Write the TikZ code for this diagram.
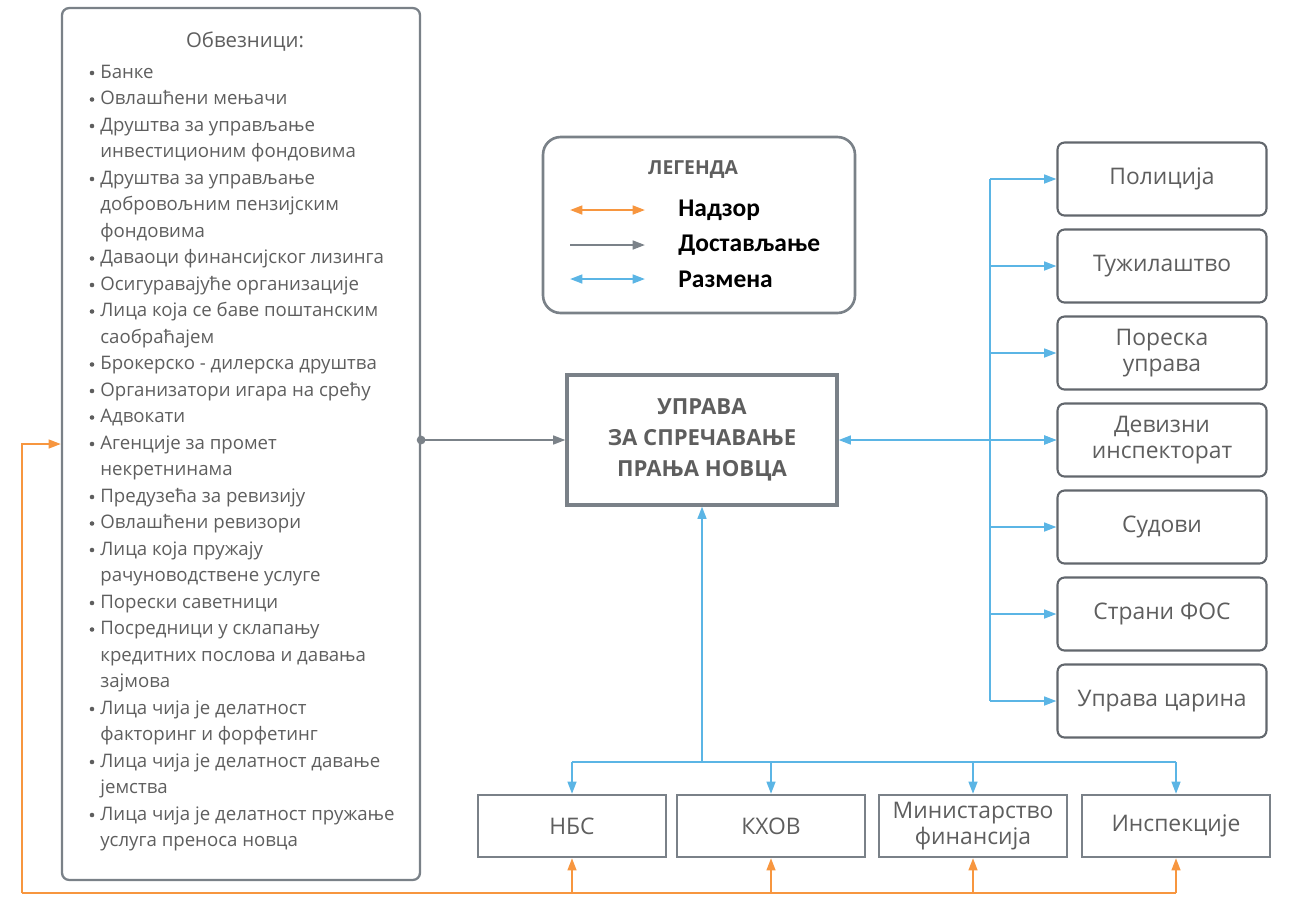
\documentclass[tikz,border=0pt]{standalone}
\usepackage{fontspec}
\setmainfont{Open Sans}
\newfontfamily\legfont{Carlito}
\usepackage{tikz}
\usetikzlibrary{arrows.meta, positioning}

\definecolor{bordergray}{HTML}{7A8188}
\definecolor{txtgray}{HTML}{5E5E5E}
\definecolor{nadzor}{HTML}{F7963F}
\definecolor{razmena}{HTML}{5BB5E5}
\definecolor{dostava}{HTML}{7B8289}

\tikzset{
  obvitem/.style={anchor=base west, inner sep=0pt, text=txtgray, font=\fontsize{10.6}{12}\selectfont},
  inst/.style={draw=bordergray!80!black, line width=1.2pt, rounded corners=4pt, minimum width=4.18cm, minimum height=1.46cm, align=center, text=txtgray, font=\fontsize{13}{14.5}\selectfont},
  bank/.style={draw=bordergray, line width=1.3pt, minimum width=3.76cm, minimum height=1.24cm, align=center, text=txtgray, font=\fontsize{13}{14.5}\selectfont},
  leglabel/.style={anchor=west, inner sep=0pt, font=\legfont\bfseries\fontsize{14.5}{16}\selectfont},
  nadzorln/.style={draw=nadzor, line width=1.2pt},
  dostln/.style={draw=dostava, line width=1.2pt},
  razmln/.style={draw=razmena, line width=1.2pt},
  legnadzor/.style={nadzorln, <->},
  legdost/.style={dostln, ->},
  legrazm/.style={razmln, <->}
}

\begin{document}
\begin{tikzpicture}[x=0.02cm, y=-0.02cm, >={Triangle[length=7pt,width=5pt]}]
\useasboundingbox (0,0) rectangle (1293,897);

% Obveznici
\node[draw=bordergray, line width=1.3pt, rounded corners=4pt, minimum width=7.16cm, minimum height=17.44cm] (obv) at (241,444) {};
\node[text=txtgray, font=\fontsize{11.6}{13}\selectfont] (obvtitle) at (245,42) {Обвезници:};
\foreach \b/\t [count=\i] in {1/Банке, 1/Овлашћени мењачи, 1/Друштва за управљање, 0/инвестиционим фондовима, 1/Друштва за управљање, 0/добровољним пензијским, 0/фондовима, 1/Даваоци финансијског лизинга, 1/Осигуравајуће организације, 1/Лица која се баве поштанским, 0/саобраћајем, 1/Брокерско - дилерска друштва, 1/Организатори игара на срећу, 1/Адвокати, 1/Агенције за промет, 0/некретнинама, 1/Предузећа за ревизију, 1/Овлашћени ревизори, 1/Лица која пружају, 0/рачуноводствене услуге, 1/Порески саветници, 1/Посредници у склапању, 0/кредитних послова и давања, 0/зајмова, 1/Лица чија је делатност, 0/факторинг и форфетинг, 1/Лица чија је делатност давање, 0/јемства, 1/Лица чија је делатност пружање, 0/услуга преноса новца} {
  \node[obvitem] (it\i) at (100,{78+26.5*(\i-1)}) {\t};
  \ifnum\b=1 \fill[txtgray] (92,{73+26.5*(\i-1)}) circle (1.3pt); \fi
}

% Legenda
\node[draw=bordergray, line width=1.5pt, rounded corners=10pt, minimum width=6.24cm, minimum height=3.52cm] (leg) at (699,225) {};
\node[text=txtgray, font=\bfseries\fontsize{11}{13}\selectfont] (legtitle) at (693,170) {ЛЕГЕНДА};
\foreach \y/\s/\l in {210/legnadzor/Надзор, 245/legdost/Достављање, 279/legrazm/Размена} {
  \coordinate (la\y) at (570,\y);
  \coordinate (lb\y) at (645,\y);
  \draw[\s] (la\y) -- (lb\y);
  \node[leglabel] (lab\y) at (678,\y) {\l};
}

% Uprava
\node[draw=bordergray, line width=1.8pt, minimum width=5.4cm, minimum height=2.6cm, align=center, text=txtgray, font=\bfseries\fontsize{12.6}{17.6}\selectfont] (uprava) at (702,440) {УПРАВА\\ЗА СПРЕЧАВАЊЕ\\ПРАЊА НОВЦА};

% Razmena desno
\coordinate (bus) at (990,0);
\foreach \t [count=\i] in {Полиција, Тужилаштво, Пореска\\управа, Девизни\\инспекторат, Судови, Страни ФОС, Управа царина} {
  \node[inst] (r\i) at (1162,{179+87*(\i-1)}) {\t};
  \draw[razmln,->] (r\i.west -| bus) -- (r\i.west);
}
\draw[razmln] (r1.west -| bus) -- (r7.west -| bus);
\draw[razmln,<->] (uprava.east) -- (r4.west);

% Razmena dole
\coordinate (bbus) at (702,762);
\foreach \t/\x [count=\i] in {НБС/572, КХОВ/771, Министарство\\финансија/973, Инспекције/1176} {
  \node[bank] (b\i) at (\x,826) {\t};
  \draw[razmln,->] (b\i.north |- bbus) -- (b\i.north);
}
\draw[razmln] (b1.north |- bbus) -- (b4.north |- bbus);
\draw[razmln,->] (uprava.south |- bbus) -- (uprava.south);

% Nadzor
\coordinate (obase) at (22,893);
\draw[nadzorln] (obase) -- (b4.south |- obase);
\draw[nadzorln,->] (obase) |- (obv.west);
\foreach \i in {1,...,4} {
  \draw[nadzorln,->] (b\i.south |- obase) -- (b\i.south);
}

% Dostavljanje
\fill[dostava] (uprava.west -| obv.east) circle (2.5pt);
\draw[dostln,->] (uprava.west -| obv.east) -- (uprava.west);
\end{tikzpicture}
\end{document}
